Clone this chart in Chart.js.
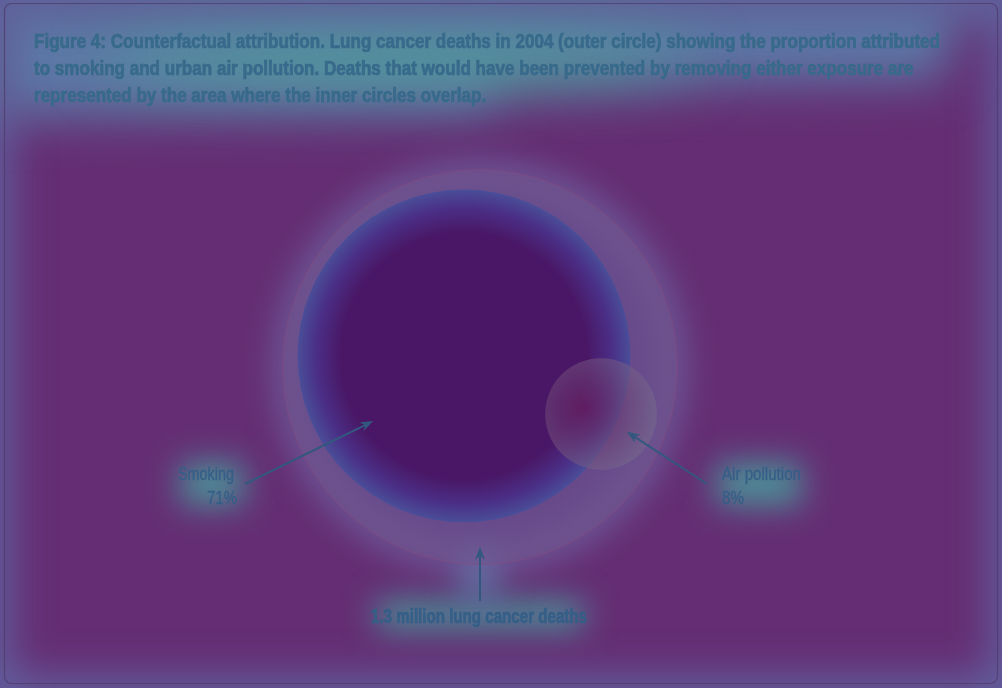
<!DOCTYPE html>
<html><head><meta charset="utf-8">
<style>html,body{margin:0;padding:0;background:#652e74;overflow:hidden}#wrap{width:1002px;height:688px;position:relative}</style>
<script src="https://cdn.jsdelivr.net/npm/chart.js@4"></script>
</head><body><div id="wrap"><canvas id="c" width="1002" height="688"></canvas></div>
<script>
// ---- data ----
const titleLines = [
  'Figure 4: Counterfactual attribution. Lung cancer deaths in 2004 (outer circle) showing the proportion attributed',
  'to smoking and urban air pollution. Deaths that would have been prevented by removing either exposure are',
  'represented by the area where the inner circles overlap.'
];
const categories = ['Lung cancer deaths', 'Smoking', 'Air pollution'];
const shares = [100, 71, 8];               // % of lung cancer deaths (circle area)
const shareLabels = ['1.3 million lung cancer deaths', '71%', '8%'];

// ---- layout / style (not data) ----
const FONT = "'Liberation Sans Narrow', 'Liberation Sans', sans-serif";
const layout = {
  centre: [480, 367], outerRadius: 197.5,
  offsets: [[0, 0], [-0.081, 0.056], [0.613, -0.238]]  // circle centres, in outer-radius units
};
const bg = '#652e74';
const textCol = '#386a8b';
const labelCol = '#355f87';
const arrowCol = '#33587f';

function fitText(c, txt, x, y, font, align, targetW, embolden) {
  c.save();
  c.font = font;
  const w = c.measureText(txt).width;
  const sx = targetW / w;
  c.translate(x, y); c.scale(sx, 1);
  c.textAlign = align; c.textBaseline = 'alphabetic';
  c.fillText(txt, 0, 0);
  if (embolden) { c.strokeStyle = c.fillStyle; c.lineWidth = embolden; c.strokeText(txt, 0, 0); }
  c.restore();
}

const glowPlugin = {
  id: 'glow',
  beforeDraw(chart) {
    const c = chart.ctx, W = chart.width, H = chart.height;
    c.save();
    c.fillStyle = bg; c.fillRect(0, 0, W, H);
    c.filter = 'blur(20px)';
    c.strokeStyle = '#6068a4'; c.lineWidth = 34;
    c.strokeRect(-8, -8, W + 16, H + 16);
    c.filter = 'blur(24px)';
    c.fillStyle = '#5c78a6';
    c.beginPath();
    c.moveTo(0, 0); c.lineTo(W, 0); c.lineTo(W, 14); c.lineTo(955, 18); c.lineTo(945, 80);
    c.lineTo(500, 88); c.lineTo(490, 112); c.lineTo(0, 118); c.closePath(); c.fill();
    c.filter = 'blur(30px)';
    c.fillStyle = 'rgba(72,170,148,0.8)';
    c.beginPath(); c.ellipse(400, 62, 300, 22, 0, 0, Math.PI * 2); c.fill();
    c.filter = 'blur(16px)';
    c.fillStyle = 'rgba(72,160,158,0.85)';
    c.fillRect(180, 462, 64, 44);
    c.fillRect(716, 462, 86, 44);
    c.fillRect(376, 600, 208, 30);
    c.fillStyle = '#5b78a6';
    c.fillRect(462, 552, 34, 48);
    c.filter = 'blur(16px)';
    c.strokeStyle = 'rgba(110,105,165,0.85)'; c.lineWidth = 26;
    c.beginPath(); c.arc(layout.centre[0], layout.centre[1], layout.outerRadius - 6, 0, Math.PI * 2); c.stroke();
    c.restore();
    c.save();
    c.strokeStyle = 'rgba(80,60,110,0.8)'; c.lineWidth = 1.2;
    c.beginPath(); c.roundRect(4.5, 3.5, W - 9, H - 8, 7); c.stroke();
    c.restore();
    c.save();
    c.fillStyle = textCol; c.strokeStyle = textCol; c.lineWidth = 0.7;
    c.font = 'bold 20px ' + FONT;
    const sx = 906 / c.measureText(titleLines[0]).width;
    titleLines.forEach((t, k) => {
      c.save(); c.translate(34, 48 + 27 * k); c.scale(sx, 1);
      c.textAlign = 'left'; c.fillText(t, 0, 0); c.strokeText(t, 0, 0); c.restore();
    });
    c.restore();
  }
};

const annotPlugin = {
  id: 'annot',
  afterDatasetsDraw(chart) {
    const c = chart.ctx;
    const xs = chart.scales.x, ys = chart.scales.y;
    const px = (i, dx, dy) => [xs.getPixelForValue(layout.offsets[i][0] + dx), ys.getPixelForValue(layout.offsets[i][1] + dy)];
    const arrow = (from, to) => {
      c.save();
      c.strokeStyle = arrowCol; c.fillStyle = arrowCol; c.lineWidth = 2;
      const ang = Math.atan2(to[1] - from[1], to[0] - from[0]);
      const back = [to[0] - 9 * Math.cos(ang), to[1] - 9 * Math.sin(ang)];
      c.beginPath(); c.moveTo(from[0], from[1]); c.lineTo(back[0], back[1]); c.stroke();
      c.beginPath(); c.moveTo(to[0], to[1]);
      c.lineTo(to[0] - 14 * Math.cos(ang - 0.36), to[1] - 14 * Math.sin(ang - 0.36));
      c.lineTo(to[0] - 9 * Math.cos(ang), to[1] - 9 * Math.sin(ang));
      c.lineTo(to[0] - 14 * Math.cos(ang + 0.36), to[1] - 14 * Math.sin(ang + 0.36));
      c.closePath(); c.fill();
      c.restore();
    };
    arrow([245, 484], px(1, -0.46, -0.33));
    arrow([707, 484], px(2, 0.13, -0.09));
    const bottom = px(0, 0, -0.91);
    arrow([bottom[0], 601], bottom);
    c.save();
    c.fillStyle = labelCol;
    fitText(c, categories[1], 234, 480, '18px ' + FONT, 'right', 56, 0.3);
    fitText(c, shareLabels[1], 237, 504, '18px ' + FONT, 'right', 30, 0.3);
    fitText(c, categories[2], 722, 480, '18px ' + FONT, 'left', 79, 0.3);
    fitText(c, shareLabels[2], 722, 504, '18px ' + FONT, 'left', 22, 0.3);
    fitText(c, shareLabels[0], 479, 623, 'bold 20px ' + FONT, 'center', 216, 0.7);
    c.restore();
  }
};

const datasets = categories.map((name, i) => ({
  label: name,
  data: [{ x: layout.offsets[i][0], y: layout.offsets[i][1] }],
  hoverRadius: 0,
  backgroundColor: 'rgba(0,0,0,0)',
  borderWidth: i === 0 ? 1 : 0,
  borderColor: 'rgba(140,70,120,0.45)',
  order: 3 - i,
  clip: false
}));

const chart = new Chart(document.getElementById('c'), {
  type: 'bubble',
  data: { datasets },
  plugins: [glowPlugin, annotPlugin],
  options: {
    responsive: false, animation: false, devicePixelRatio: 1,
    events: [],
    layout: { autoPadding: false, padding: { left: 4, right: 4, bottom: 4, top: 120 } },
    plugins: { legend: { display: false }, tooltip: { enabled: false }, title: { display: false } },
    scales: {
      x: { type: 'linear', display: false, min: -2, max: 2 },
      y: { type: 'linear', display: false, min: -1.5, max: 1.5 }
    }
  }
});
// one scale unit = outer radius; circle radii follow from the shares (area proportional to share)
const a = chart.chartArea, R = layout.outerRadius;
chart.options.scales.x.min = -(layout.centre[0] - a.left) / R;
chart.options.scales.x.max = (a.right - layout.centre[0]) / R;
chart.options.scales.y.min = -(a.bottom - layout.centre[1]) / R;
chart.options.scales.y.max = (layout.centre[1] - a.top) / R;
chart.update();

const xs = chart.scales.x, ys = chart.scales.y, g = chart.ctx;
const unit = Math.abs(ys.getPixelForValue(1) - ys.getPixelForValue(0));
datasets.forEach((ds, i) => {
  const r = unit * Math.sqrt(shares[i] / 100);
  ds.data[0].r = r;
  const cx = xs.getPixelForValue(ds.data[0].x), cy = ys.getPixelForValue(ds.data[0].y);
  let grad;
  if (i === 0) {
    grad = g.createRadialGradient(cx, cy, 0, cx, cy, r);
    grad.addColorStop(0, 'rgba(106,95,155,0.55)');
    grad.addColorStop(0.8, 'rgba(106,95,155,0.55)');
    grad.addColorStop(1, 'rgba(112,84,140,0.5)');
  } else if (i === 1) {
    grad = g.createRadialGradient(cx, cy, 0, cx, cy, r);
    grad.addColorStop(0, '#4a1766');
    grad.addColorStop(0.74, '#4a1766');
    grad.addColorStop(0.89, '#4a2f86');
    grad.addColorStop(1, '#4a4e98');
  } else {
    const gx = cx - r * 0.3, gy = cy - r * 0.1;
    grad = g.createRadialGradient(gx, gy, 0, gx, gy, r * 1.25);
    grad.addColorStop(0, 'rgba(100,28,92,0.8)');
    grad.addColorStop(0.35, 'rgba(104,50,108,0.65)');
    grad.addColorStop(1, 'rgba(118,105,140,0.55)');
  }
  ds.backgroundColor = grad;
});
chart.update();
</script></body></html>
